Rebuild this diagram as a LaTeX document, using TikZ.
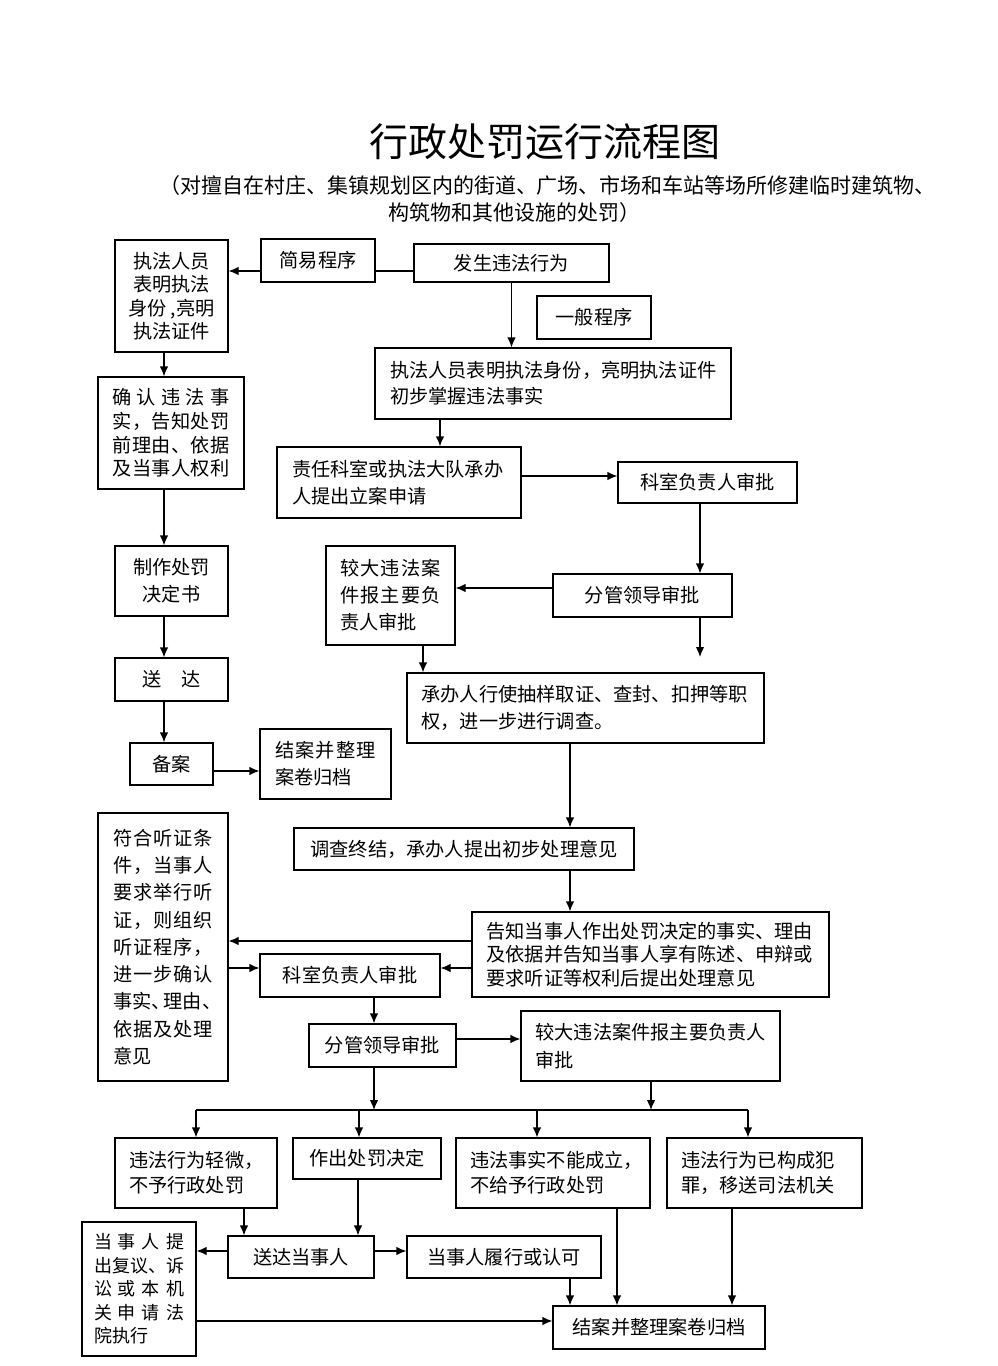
\documentclass[tikz,border=0pt]{standalone}
\usepackage{fontspec}
\setmainfont{Noto Sans CJK SC}
\usepackage{tikz}
\usetikzlibrary{arrows.meta}
\tikzstyle{box} = [draw, line width=1.2pt, inner sep=0pt, font=\fontsize{19.2pt}{27pt}\selectfont]
\tikzset{lskip/.style={font=\fontsize{19.2pt}{#1}\selectfont}}
% spread one line of characters over a given width
\newcommand{\jline}[2]{\makebox[#1][s]{\jchars#2\relax}}
\def\jchars#1#2{#1\ifx\relax#2\else\hfill\expandafter\jchars\expandafter#2\fi}

\begin{document}
\begin{tikzpicture}[x=1pt, y=-1pt,
                    arrow/.style={draw, line width=1.2pt, -{Latex[length=10pt,width=8.5pt]}},
                    line/.style={draw, line width=1.2pt}
                    ]
\useasboundingbox (0,0) rectangle (998,1366);

    \node[font=\fontsize{39pt}{39pt}\selectfont] (title) at (545,142) {行政处罚运行流程图};
    \node[font=\fontsize{21pt}{21pt}\selectfont] (sub1) at (547.5,185.5) {（对擅自在村庄、集镇规划区内的街道、广场、市场和车站等场所修建临时建筑物、};
    \node[font=\fontsize{21pt}{21pt}\selectfont] (sub2) at (514,212.5) {构筑物和其他设施的处罚）};

    % left column
    \node[box, minimum width=113pt, minimum height=112pt, align=center, lskip=23.5pt] (zfry) at (171.5,296) {执法人员\\表明执法\\身份 ,亮明\\执法证件};
    \node[box, minimum width=146pt, minimum height=112pt, text width=117pt, align=left, lskip=23.7pt] (qrwf) at (171,433)
        {\jline{117pt}{确认违法事}\\\jline{117pt}{实，告知处罚}\\\jline{117pt}{前理由、依据}\\\jline{117pt}{及当事人权利}};
    \node[box, minimum width=113pt, minimum height=70pt, align=center] (zzcf) at (171.5,581) {制作处罚\\决定书};
    \node[box, minimum width=113pt, minimum height=43pt] (sd) at (171.5,679.5) {送\quad 达};
    \node[box, minimum width=83pt, minimum height=42pt] (ba) at (171.5,764) {备案};
    \node[box, minimum width=131pt, minimum height=70pt, text width=101pt, align=left] (jagd1) at (325.5,764) {\jline{101pt}{结案并整理}\\案卷归档};

    % general procedure
    \node[box, minimum width=114pt, minimum height=43pt] (jycx) at (318,260.5) {简易程序};
    \node[box, minimum width=195pt, minimum height=38pt] (fswf) at (511.5,263) {发生违法行为};
    \node[box, minimum width=114pt, minimum height=43pt] (ybcx) at (594,317.5) {一般程序};
    \node[box, minimum width=356pt, minimum height=71pt, text width=326pt, align=left, lskip=26pt] (zfry2) at (553,383.5)
        {执法人员表明执法身份，亮明执法证件\\初步掌握违法事实};
    \node[box, minimum width=244pt, minimum height=71pt, text width=214pt, align=left, lskip=26.7pt] (zrks) at (399,482.5)
        {责任科室或执法大队承办\\人提出立案申请};
    \node[box, minimum width=179pt, minimum height=41pt] (ksfz1) at (707.5,482.5) {科室负责人审批};
    \node[box, minimum width=179pt, minimum height=43pt] (fgld1) at (642.5,595.5) {分管领导审批};
    \node[box, minimum width=129pt, minimum height=99pt, text width=101pt, align=left] (jdwf1) at (390.5,595.5)
        {\jline{101pt}{较大违法案}\\\jline{101pt}{件报主要负}\\责人审批};
    \node[box, minimum width=357pt, minimum height=70pt, text width=328pt, align=left, lskip=26.5pt] (cbr) at (585.5,708)
        {承办人行使抽样取证、查封、扣押等职\\权，进一步进行调查。};
    \node[box, minimum width=340pt, minimum height=42pt] (dczj) at (464,849) {调查终结，承办人提出初步处理意见};
    \node[box, minimum width=357pt, minimum height=85pt, text width=328pt, align=left, lskip=23.3pt] (gz) at (650.5,954.5)
        {告知当事人作出处罚决定的事实、理由\\及依据并告知当事人享有陈述、申辩或\\要求听证等权利后提出处理意见};
    \node[box, minimum width=130pt, minimum height=268pt, text width=100pt, align=left, lskip=27.3pt] (fhtz) at (163,947)
        {\jline{100pt}{符合听证条}\\\jline{100pt}{件，当事人}\\\jline{100pt}{要求举行听}\\\jline{100pt}{证，则组织}\\\jline{100pt}{听证程序，}\\\jline{100pt}{进一步确认}\\事实、\kern-7pt 理由、\kern-7pt\\\jline{100pt}{依据及处理}\\意见};
    \node[box, minimum width=180pt, minimum height=43pt] (ksfz2) at (350,975.5) {科室负责人审批};
    \node[box, minimum width=147pt, minimum height=43pt] (fgld2) at (382.5,1045.5) {分管领导审批};
    \node[box, minimum width=259pt, minimum height=70pt, text width=230pt, align=left, lskip=28pt] (jdwf2) at (650.5,1046)
        {较大违法案件报主要负责人\\审批};

    % outcomes
    \node[box, minimum width=162pt, minimum height=70pt, text width=134pt, align=left, lskip=25pt] (wfqw) at (196,1173) {违法行为轻微，\\不予行政处罚};
    \node[box, minimum width=148pt, minimum height=41pt] (zccf) at (367,1158.5) {作出处罚决定};
    \node[box, minimum width=194pt, minimum height=70pt, text width=166pt, align=left, lskip=25pt] (wfss) at (553,1173) {违法事实不能成立，\\不给予行政处罚};
    \node[box, minimum width=195pt, minimum height=70pt, text width=167pt, align=left, lskip=25pt] (wfzf) at (764.5,1173) {违法行为已构成犯\\罪，移送司法机关};
    \node[box, minimum width=146pt, minimum height=42pt] (sddsr) at (301,1257) {送达当事人};
    \node[box, minimum width=194pt, minimum height=42pt] (lx) at (504,1257) {当事人履行或认可};
    \node[box, minimum width=114pt, minimum height=134pt, text width=90pt, align=left, font=\fontsize{18pt}{23.5pt}\selectfont] (dsrtc) at (139,1289)
        {\jline{90pt}{当事人提}\\\jline{90pt}{出复议、诉}\\\jline{90pt}{讼或本机}\\\jline{90pt}{关申请法}\\院执行};
    \node[box, minimum width=212pt, minimum height=43pt] (jagd2) at (659,1327.5) {结案并整理案卷归档};

    \coordinate (fgldend) at (700,657);
    \coordinate (busL) at (196,1110);
    \coordinate (busR) at (748,1110);

    % connectors
    \draw[line] (fswf.west |- 0,271) -- (jycx.east |- 0,271);
    \draw[arrow] (jycx.west |- 0,271) -- (zfry.east |- 0,271);
    \draw[arrow] (fswf.south) -- (fswf.south |- zfry2.north);
    \draw[arrow] (zfry.south -| 164,0) -- (qrwf.north -| 164,0);
    \draw[arrow] (qrwf.south -| 164,0) -- (zzcf.north -| 164,0);
    \draw[arrow] (zzcf.south -| 164,0) -- (sd.north -| 164,0);
    \draw[arrow] (sd.south -| 164,0) -- (ba.north -| 164,0);
    \draw[arrow] (ba.east |- 0,771) -- (jagd1.west |- 0,771);
    \draw[arrow] (zfry2.south -| 440,0) -- (zrks.north -| 440,0);
    \draw[arrow] (zrks.east |- 0,476) -- (ksfz1.west |- 0,476);
    \draw[arrow] (ksfz1.south -| 700,0) -- (fgld1.north -| 700,0);
    \draw[arrow] (fgld1.west |- 0,588) -- (jdwf1.east |- 0,588);
    \draw[arrow] (fgld1.south -| fgldend) -- (fgldend);
    \draw[arrow] (jdwf1.south -| 423,0) -- (cbr.north -| 423,0);
    \draw[arrow] (cbr.south -| 570,0) -- (dczj.north -| 570,0);
    \draw[arrow] (dczj.south -| 570,0) -- (gz.north -| 570,0);
    \draw[arrow] (gz.west |- 0,941) -- (fhtz.east |- 0,941);
    \draw[arrow] (gz.west |- 0,968) -- (ksfz2.east |- 0,968);
    \draw[arrow] (fhtz.east |- 0,968) -- (ksfz2.west |- 0,968);
    \draw[arrow] (ksfz2.south -| 374,0) -- (fgld2.north -| 374,0);
    \draw[arrow] (fgld2.east |- 0,1039) -- (jdwf2.west |- 0,1039);
    \draw[arrow] (fgld2.south -| 374,0) -- (busL -| 374,0);
    \draw[arrow] (jdwf2.south -| 651,0) -- (busL -| 651,0);
    \draw[line] (busL) -- (busR);
    \draw[arrow] (busL) -- (wfqw.north);
    \draw[arrow] (busL -| 359,0) -- (zccf.north -| 359,0);
    \draw[arrow] (busL -| 537,0) -- (wfss.north -| 537,0);
    \draw[arrow] (busR) -- (busR |- wfzf.north);
    \draw[arrow] (wfqw.south -| 244,0) -- (sddsr.north -| 244,0);
    \draw[arrow] (zccf.south -| 358,0) -- (sddsr.north -| 358,0);
    \draw[arrow] (sddsr.east |- 0,1251) -- (lx.west |- 0,1251);
    \draw[arrow] (sddsr.west |- 0,1251) -- (dsrtc.east |- 0,1251);
    \draw[arrow] (lx.south -| 570,0) -- (jagd2.north -| 570,0);
    \draw[arrow] (wfss.south -| 617,0) -- (jagd2.north -| 617,0);
    \draw[arrow] (wfzf.south -| 732,0) -- (jagd2.north -| 732,0);
    \draw[arrow] (dsrtc.east |- 0,1321) -- (jagd2.west |- 0,1321);

\end{tikzpicture}
\end{document}
